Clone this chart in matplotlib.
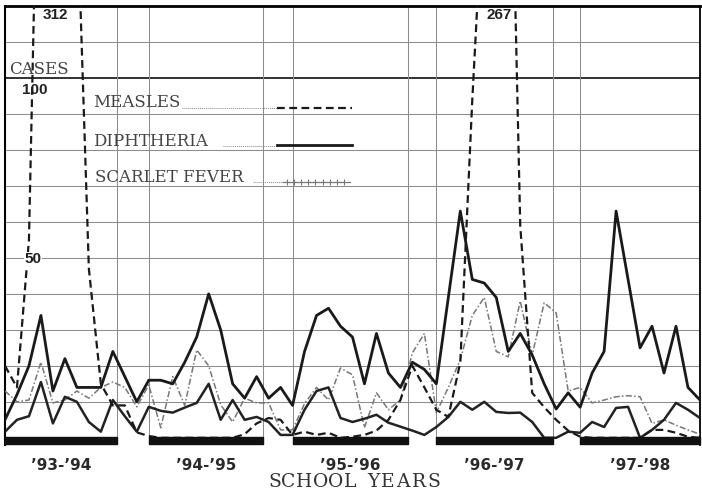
import numpy as np
import matplotlib
matplotlib.use("Agg")
import matplotlib.pyplot as plt
from matplotlib.textpath import TextPath
from matplotlib.font_manager import FontProperties

# monthly counts, Sept 1893 .. July 1898 (month index 0..58)
months = np.arange(59)

measles = [20, 14, 55, 210, 312, 270, 151, 47, 15, 9,
           9, 1.5, 0.5, 0, 0, 0, 0, 0, 0, 0,
           1, 4, 5.5, 5, 0.8, 1.7, 0.8, 1.4, 0, 0.3,
           0.8, 2, 5, 10.5, 20, 14, 7.8, 5.8, 21, 94,
           157, 267, 209, 59, 12.5, 8.5, 5, 2, 0.3, 0,
           0, 0, 0, 0, 2.2, 2.2, 1.4, 0.3, 0]

diphtheria = [5, 12, 20, 34, 13, 22, 14, 14, 14, 24,
              17, 10, 16, 16, 15, 21, 28, 40, 30, 15,
              11, 17, 11, 14, 9, 24, 34, 36, 31, 28,
              15, 29, 18, 14, 21, 19, 15, 39, 63, 44,
              43, 39, 24, 29, 23, 15, 8, 12.5, 8.5, 18,
              24, 63, 44, 25, 31, 18, 31, 14, 10.5]

diphtheria_2 = [1.7, 5, 6, 15.5, 4, 11.4, 10, 4.4, 1.7, 10.5,
                6, 1.7, 8.6, 7.5, 7, 8.4, 9.7, 15, 5, 10.5,
                5, 5.8, 4.4, 0.8, 0.8, 7.8, 13, 14, 5.5, 4.4,
                5.3, 6.4, 4.2, 3.1, 2, 0.8, 3, 5.8, 10, 7.8,
                10, 7.2, 6.9, 7, 4.4, 0, 0, 1.7, 1.4, 4.4,
                3, 8.3, 8.6, 0, 2.2, 5, 9.7, 7.8, 5.5]

scarlet = [13, 10, 10.5, 21, 9.7, 10.5, 13, 11, 14, 15.5,
           14, 8.6, 14.7, 2.8, 17, 9, 24.4, 20, 9.2, 4.4,
           11, 9.7, 9.7, 2.2, 2.2, 9.5, 14, 10.5, 19.4, 17.5,
           2.8, 12.5, 7.8, 10.5, 23.6, 29, 7, 14, 21.7, 34,
           39, 24, 22.5, 38, 23, 37.5, 34.7, 13, 14, 9.7,
           10.5, 11.4, 11.7, 11.4, 4, 5, 3.5, 2.2, 1]

year_labels = ["\u201993-\u201994", "\u201994-\u201995", "\u201995-\u201996",
               "\u201996-\u201997", "\u201997-\u201998"]
term_start = [0, 12, 24, 36, 48]
term_end = [9.35, 21.5, 33.6, 45.7, 58]
peak_labels = [(4.25, "312"), (41.25, "267")]

W, H = 702, 495


def spaced_text(fig, xc, yc, s, fp, gap, color):
    # letter-spaced caption, centred on (xc, yc) in pixels
    widths = []
    for ch in s:
        if ch == " ":
            widths.append(fp.get_size_in_points() * 0.32 * 100 / 72)
        else:
            widths.append(TextPath((0, 0), ch, prop=fp).get_extents().width * 100 / 72)
    total = sum(widths) + gap * (len(s) - 1)
    x = xc - total / 2
    for ch, w in zip(s, widths):
        if ch != " ":
            fig.text((x + w / 2) / W, 1 - yc / H, ch, ha="center", va="center",
                     fontproperties=fp, color=color)
        x += w + gap


def main():
    fig = plt.figure(figsize=(W / 100, H / 100), dpi=100)
    ax = fig.add_axes([0.0071, 0.101, 0.990, 0.887])
    ax.set_xlim(0, 58)
    ax.set_ylim(-2, 120)

    # ruled background
    for v in range(10, 120, 10):
        ax.axhline(v, color="#222" if v == 100 else "#8c8c8c",
                   lw=1.3 if v == 100 else 0.75, zorder=1)
    for s, e in zip(term_start, term_end):
        for xv in (s, e):
            if 0 < xv < 58:
                ax.axvline(xv, color="#8c8c8c", lw=0.75, zorder=1)

    ax.spines["bottom"].set_visible(False)
    ax.spines["top"].set_linewidth(2)
    ax.spines["left"].set_linewidth(1.5)
    ax.spines["right"].set_linewidth(1.3)
    ax.set_xticks([])
    ax.set_yticks([])

    ax.plot(months, scarlet, color="#777", lw=1.1,
            ls=(0, (4, 1.5, 1, 1.5)), zorder=3)
    ax.plot(months, diphtheria_2, color="#222", lw=1.8, zorder=4)
    ax.plot(months, diphtheria, color="#1a1a1a", lw=2.0, zorder=4)
    ax.plot(months, measles, color="#1a1a1a", lw=1.6, ls=(0, (3.5, 2)), zorder=5)

    # school terms
    ax.broken_barh([(s, e - s) for s, e in zip(term_start, term_end)],
                   (-1.8, 2.0), color="#111", zorder=6, clip_on=False)
    for s, e, lab in zip(term_start, term_end, year_labels):
        ax.text((s + e) / 2, -7.6, lab, ha="center", va="center",
                fontsize=11, fontweight="bold", family="DejaVu Sans",
                color="#2a2a2a", clip_on=False)

    for xv, lab in peak_labels:
        ax.text(xv, 117.4, lab, ha="center", va="center", fontsize=11,
                fontweight="bold", family="Liberation Sans", color="#222")

    ax.text(2.85, 102.3, "CASES", ha="center", va="center", fontsize=12,
            family="DejaVu Serif", color="#444")
    ax.text(2.5, 96.6, "100", ha="center", va="center", fontsize=11,
            fontweight="bold", family="Liberation Sans", color="#222", zorder=7)
    ax.text(2.35, 49.6, "50", ha="center", va="center", fontsize=11,
            fontweight="bold", family="Liberation Sans", color="#222",
            bbox=dict(fc="white", ec="none", pad=0.5), zorder=7)

    # key
    ax.text(7.33, 93.1, "MEASLES", ha="left", va="center", fontsize=12,
            family="DejaVu Serif", color="#444")
    ax.plot([14.8, 22.7], [91.6, 91.6], color="#888", lw=0.7, ls=(0, (1, 1)))
    ax.plot([22.7, 29.0], [91.6, 91.6], color="#1a1a1a", lw=1.6, ls=(0, (3.5, 2)))

    ax.text(7.33, 82.3, "DIPHTHERIA", ha="left", va="center", fontsize=12,
            family="DejaVu Serif", color="#444")
    ax.plot([18.2, 22.7], [81.0, 81.0], color="#888", lw=0.7, ls=(0, (1, 1)))
    ax.plot([22.7, 29.0], [81.3, 81.3], color="#1a1a1a", lw=2.0)

    ax.text(7.5, 72.2, "SCARLET FEVER", ha="left", va="center", fontsize=12,
            family="DejaVu Serif", color="#444")
    ax.plot([20.7, 23.2], [71.1, 71.1], color="#888", lw=0.7, ls=(0, (1, 1)))
    ax.plot([23.2, 28.8], [71.1, 71.1], color="#777", lw=0.9)
    ticks_x = np.arange(23.5, 28.8, 0.6)
    ax.plot(ticks_x, np.full(len(ticks_x), 71.1), ls="none", marker="|",
            ms=4, mew=0.8, color="#777")

    spaced_text(fig, 354, 482, "SCHOOL YEARS",
                FontProperties(family="DejaVu Serif", size=13.5), 2.5, "#333")

    fig.savefig("out.png", dpi=100, facecolor="white")


if __name__ == '__main__':
    main()
